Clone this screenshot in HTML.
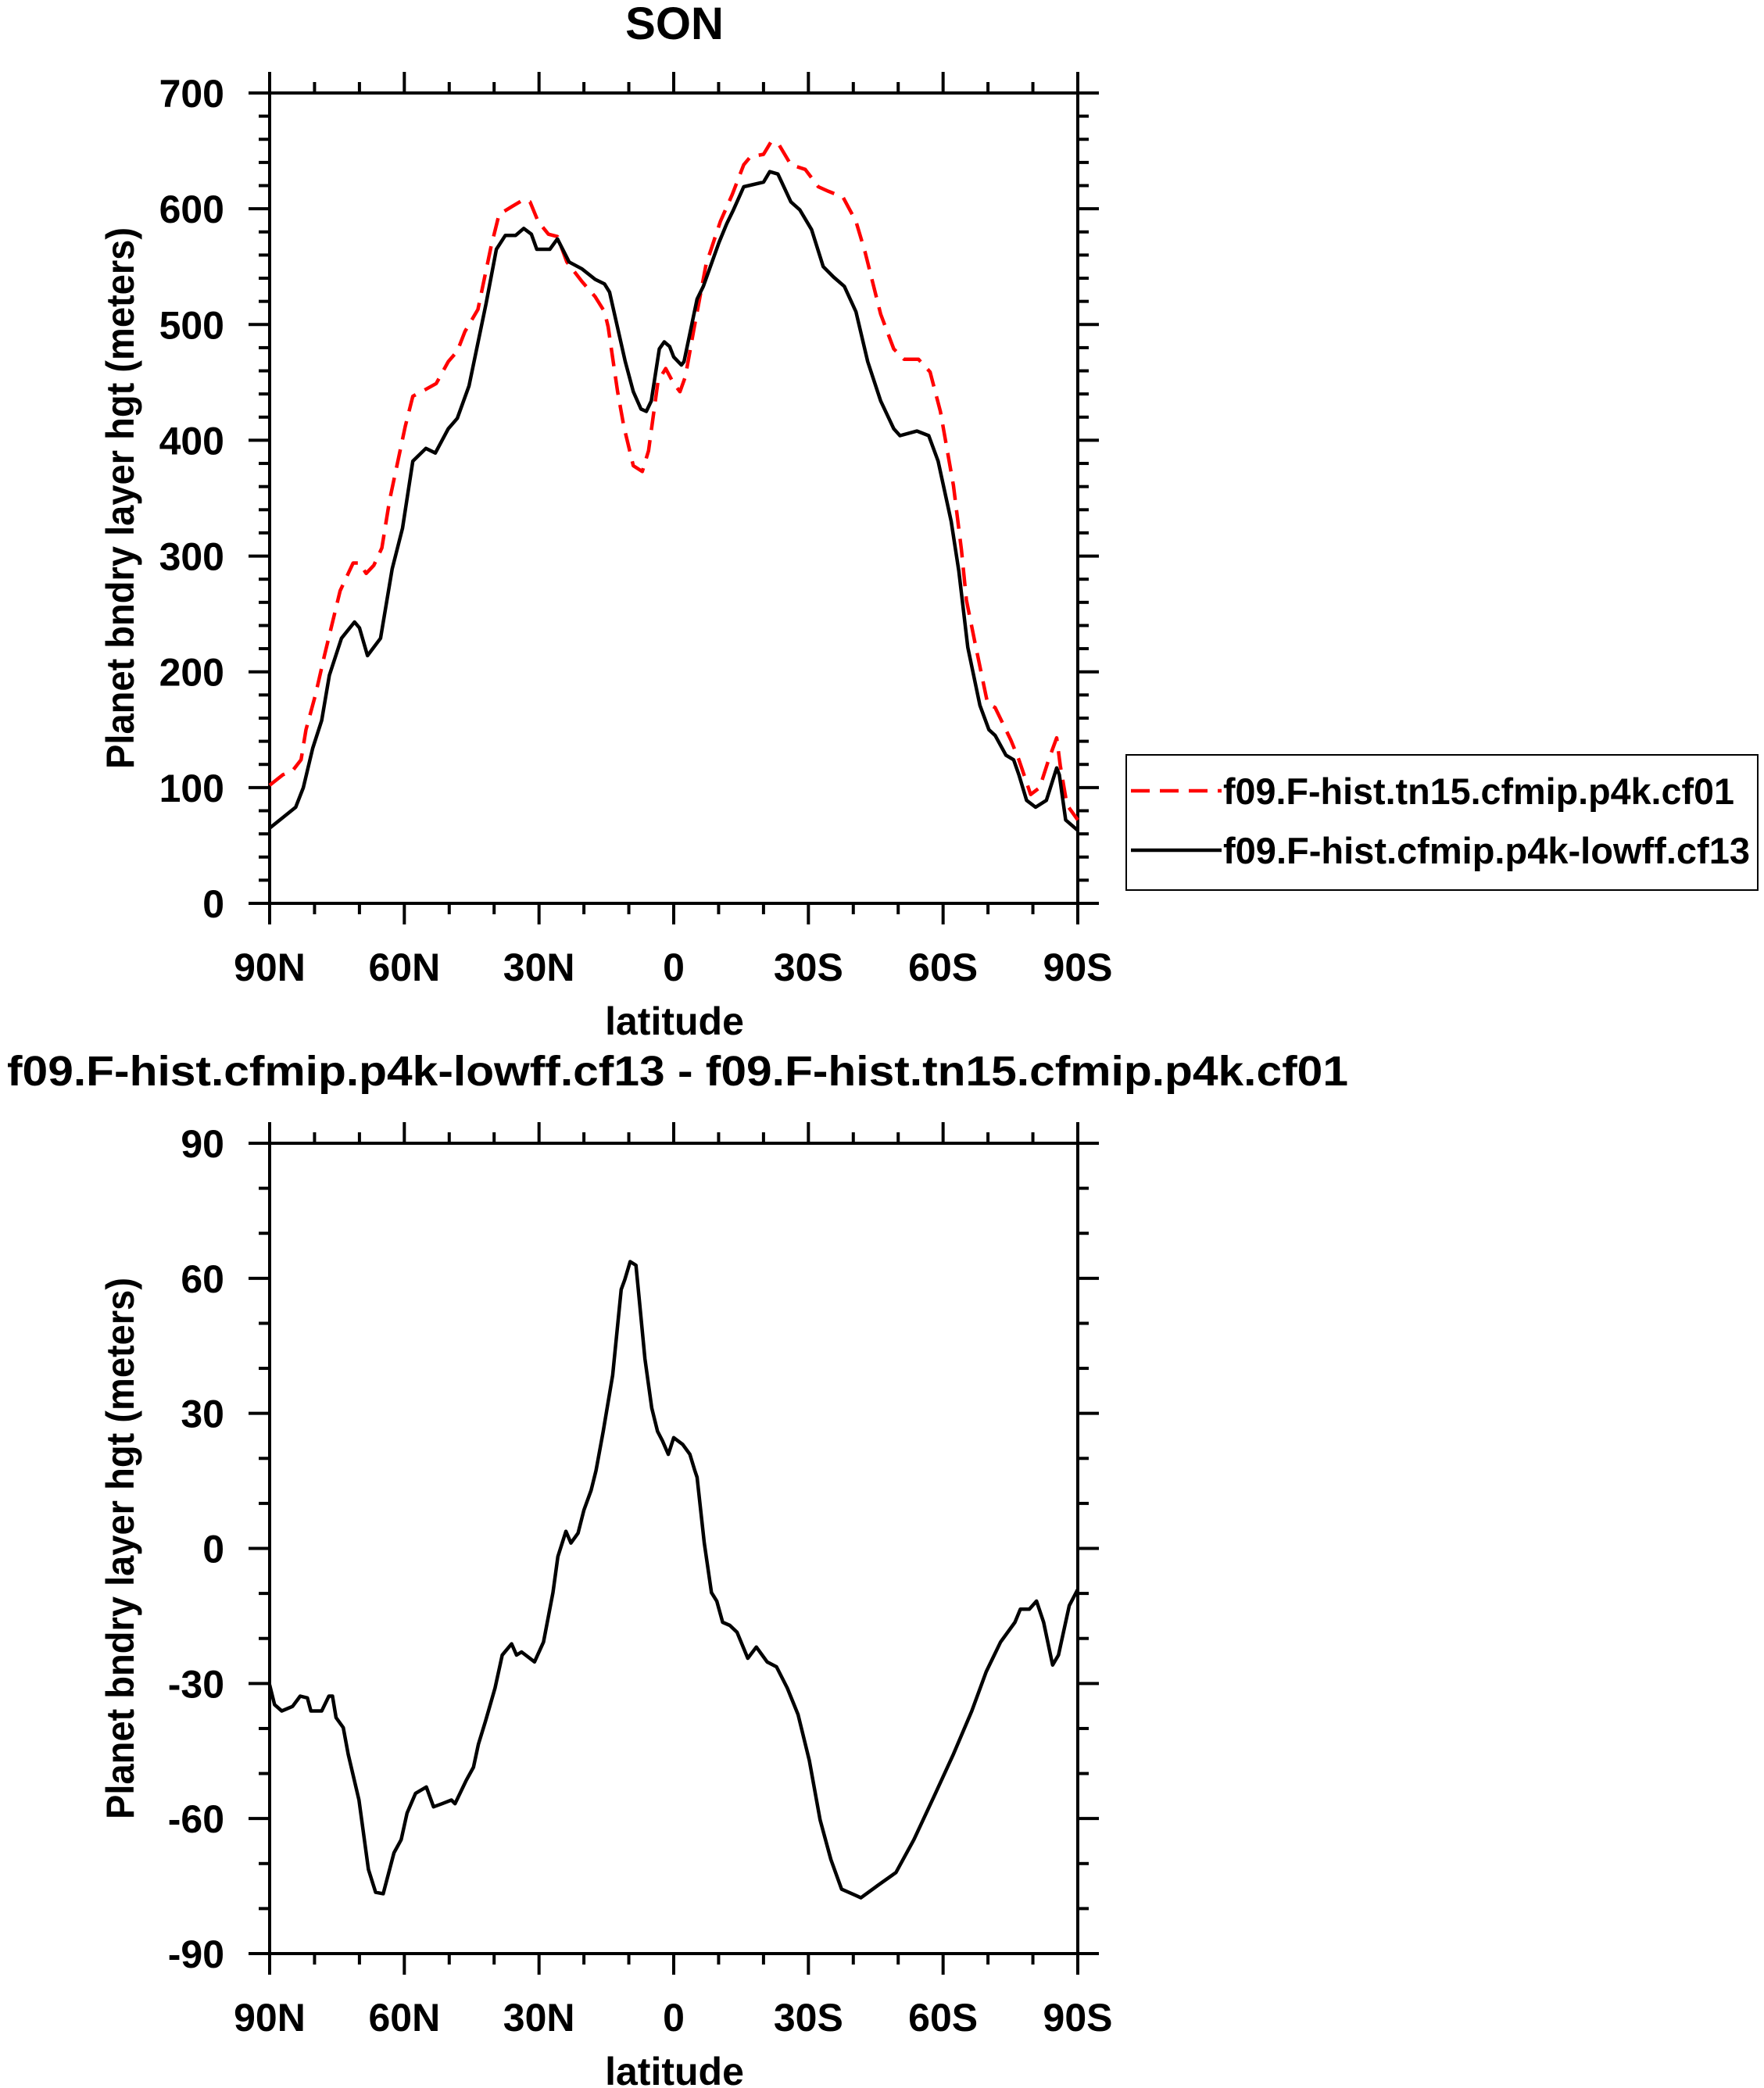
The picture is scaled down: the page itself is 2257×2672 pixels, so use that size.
<!DOCTYPE html>
<html><head><meta charset="utf-8">
<style>
html,body{margin:0;padding:0;background:#fff;}
svg{display:block;}
text{font-family:"Liberation Sans",Arial,sans-serif;font-weight:bold;fill:#000;}
</style></head>
<body>
<svg id="chart" xmlns="http://www.w3.org/2000/svg" width="2257" height="2672" viewBox="0 0 2257 2672">
<rect width="2257" height="2672" fill="#fff"/>
<text x="863" y="50" font-size="58" text-anchor="middle">SON</text>
<text x="867" y="1389" font-size="54" text-anchor="middle" textLength="1716" lengthAdjust="spacingAndGlyphs">f09.F-hist.cfmip.p4k-lowff.cf13 - f09.F-hist.tn15.cfmip.p4k.cf01</text>
<g id="top"></g>
<g id="bot"></g>
<g>
<rect x="1441" y="966" width="808" height="173" fill="none" stroke="#000" stroke-width="2"/>
<line x1="1447" y1="1012" x2="1563" y2="1012" stroke="#f00" stroke-width="4.5" stroke-dasharray="24,13"/>
<text x="1565" y="1029" font-size="47" textLength="654" lengthAdjust="spacingAndGlyphs">f09.F-hist.tn15.cfmip.p4k.cf01</text>
<line x1="1447" y1="1088" x2="1563" y2="1088" stroke="#000" stroke-width="4.5"/>
<text x="1565" y="1105" font-size="47" textLength="674" lengthAdjust="spacingAndGlyphs">f09.F-hist.cfmip.p4k-lowff.cf13</text>
</g>
</svg>
<script>
// degrees from 90N (0) to 90S (180)
const redDeg = [0,2.9,5.2,7,8.1,10.2,12.2,15.7,18.6,20,21.5,23.2,25,26.7,30.2,31.9,34.8,37.1,39.8,41.8,43.5,46.4,49.3,51.1,54,56.6,58,59.8,62.1,64.1,66.2,69.6,72.5,74.6,75.4,77.5,78.9,81,83,84.4,86.5,88.2,90,91.4,92.6,94.6,97.2,100.4,103,105.6,107.1,110,111.7,113.5,116.1,119.3,122.2,124.5,127.7,130.6,132.6,136.1,139,141.3,144.5,147.1,149.4,152.3,154.1,155.2,157,159.9,161.6,165.1,166.9,169.5,171.5,173.5,175.3,176.1,177.6,180];
const redVal = [102,111,115,124,150,180,214,270,294,294,285,292,307,348,412,438,444,449,468,477,494,513,567,595,602,608,606,589,578,576,554,537,524,511,498,442,412,378,373,391,451,462,449,442,455,498,552,589,612,638,645,647,658,655,638,634,619,615,610,589,563,509,479,470,470,459,425,361,305,262,227,173,169,141,124,94,100,124,143,119,85,72];
const blackDeg = [0,2.9,5.8,7.5,9.6,11.6,13.3,16,18.9,20,21.8,24.7,27.3,29.6,31.9,34.8,36.9,39.8,41.8,44.4,48.2,50.5,52.5,54.8,56.6,58.3,59.5,62.4,64.1,66.7,69.6,72.5,74.6,75.7,79.2,81,82.7,83.9,85,86.8,87.9,89.1,90,91.7,92.3,95.2,96.6,100.1,101.8,103.3,105.6,110,111.4,113.2,116.1,118.1,120.7,123.3,125.6,128,130.6,133.2,136.1,139,140.4,144.2,146.8,148.9,151.8,153.5,155.5,158.2,160.2,161.6,164,165.7,166.9,168.6,170.6,173,175.3,175.9,177.3,180];
const blackVal = [65,74,83,100,134,158,197,229,243,238,214,229,289,324,382,393,389,410,419,447,518,565,577,577,583,578,565,565,574,554,548,539,535,528,468,442,427,425,434,479,485,481,472,465,468,522,533,571,587,599,619,623,632,630,606,599,582,550,541,533,511,468,434,410,404,408,404,382,330,287,221,171,150,145,128,124,111,89,83,89,117,111,72,63];
const diffDeg = [0,1.1,2.7,5.1,6.8,8.4,9.2,11.6,13.2,14,14.8,16.4,17.5,19.9,22,23.6,25.3,27.7,29.3,30.6,32.5,34.9,36.5,38.4,40.5,41.3,43.8,45.4,46.5,48.1,50.2,51.8,53.9,55,56.1,59,61,63.1,64.2,66,67.1,68.7,70,71.6,72.7,74.3,76.4,78.3,79.1,80.3,81.6,82.4,83.6,85.1,86.4,87.5,88.8,90,92,93.6,94.7,95.2,96.8,98.4,99.6,100.9,102.5,104.1,106.5,108.4,110.8,112.9,115.3,117.7,120.2,122.6,125,127.4,130.6,131.7,135.4,139.5,143.5,148.3,152.3,156.4,159.6,162.8,166,167.2,169.2,170.8,172.4,174.4,175.7,178.1,180];
const diffVal = [-30.3,-34.7,-36.1,-35.1,-32.8,-33.2,-36.1,-36.1,-32.8,-32.8,-37.6,-39.8,-45.7,-55.9,-71.3,-76.4,-76.7,-67.6,-64.7,-58.8,-54.4,-53,-57.4,-56.7,-55.9,-56.7,-51.5,-48.6,-43.5,-38.3,-31,-23.7,-21.2,-23.7,-23,-25.2,-20.8,-9.8,-1.8,3.8,1.2,3.4,8.5,12.9,17.3,26,38.5,57.5,59.7,63.7,62.9,54.6,42.1,31.2,26,23.9,20.9,24.6,23.1,20.9,17.3,15.8,1.2,-9.8,-11.7,-16.4,-17.1,-18.6,-24.4,-21.9,-25.2,-26.3,-31,-36.9,-47.1,-60.3,-69.1,-75.7,-77.1,-77.6,-74.9,-72,-64.7,-54.4,-45.7,-36.1,-27.4,-20.8,-16.4,-13.5,-13.5,-11.7,-16.4,-25.9,-23.7,-12.7,-9.1];
const xTickLabels = ["90N","60N","30N","0","30S","60S","90S"];
const topYTicks = [0,100,200,300,400,500,600,700];
const botYTicks = [-90,-60,-30,0,30,60,90];

const NS = "http://www.w3.org/2000/svg";
const L = 345, R = 1379;
function mk(parent, tag, attrs){ const e = document.createElementNS(NS, tag); for (const k in attrs) e.setAttribute(k, attrs[k]); parent.appendChild(e); return e; }
function xs(d){ return L + (R - L) * d / 180; }

function axes(g, top, bot, ymin, ymax, yTicks, yMinorStep, prefix){
  const ys = v => bot - (bot - top) * (v - ymin) / (ymax - ymin);
  for (let d = 0; d <= 180; d += 10){
    const major = d % 30 === 0; const len = major ? 27 : 14;
    const x = xs(d);
    const t1 = mk(g, "line", {x1:x, y1:bot, x2:x, y2:bot+len, stroke:"#000", "stroke-width":4});
    
    
    const t2 = mk(g, "line", {x1:x, y1:top, x2:x, y2:top-len, stroke:"#000", "stroke-width":4});
    
    
  }
  for (let v = ymin; v <= ymax + 1e-6; v += yMinorStep){
    const major = yTicks.some(t => Math.abs(t - v) < 1e-6); const len = major ? 27 : 14;
    const y = ys(v);
    const t1 = mk(g, "line", {x1:L, y1:y, x2:L-len, y2:y, stroke:"#000", "stroke-width":4});
    
    
    const t2 = mk(g, "line", {x1:R, y1:y, x2:R+len, y2:y, stroke:"#000", "stroke-width":4});
    
    
  }
  const frame = mk(g, "rect", {x:L, y:top, width:R-L, height:bot-top, fill:"none", stroke:"#000", "stroke-width":4});
  
  
  xTickLabels.forEach((lab, i) => {
    const t = mk(g, "text", {x:xs(i*30), y:bot+99, "font-size":50, "text-anchor":"middle"});
    t.textContent = lab;
    
    
  });
  yTicks.forEach(v => {
    const t = mk(g, "text", {x:287, y:ys(v)+18, "font-size":50, "text-anchor":"end"});
    t.textContent = String(v);
    
    
  });
  const xt = mk(g, "text", {x:863, y:bot+168, "font-size":50, "text-anchor":"middle"});
  xt.textContent = "latitude";
  
  
  const cy = (top + bot) / 2;
  const yt = mk(g, "text", {x:0, y:0, "font-size":50, "text-anchor":"middle", transform:`translate(171,${cy}) rotate(-90)`, textLength:693, lengthAdjust:"spacingAndGlyphs"});
  yt.textContent = "Planet bndry layer hgt (meters)";
  
  
  return ys;
}

function line(g, degs, vals, ys, color, dash, name){
  const pts = degs.map((d, i) => xs(d).toFixed(1) + "," + ys(vals[i]).toFixed(1)).join(" ");
  const p = mk(g, "polyline", {points:pts, fill:"none", stroke:color, "stroke-width":4.5, "stroke-linejoin":"round"});
  if (dash) p.setAttribute("stroke-dasharray", dash);
  
  
}

const gTop = document.getElementById("top");
const ysTop = axes(gTop, 119, 1156, 0, 700, topYTicks, 20, "top");
line(gTop, redDeg, redVal, ysTop, "#f00", "24,13", "series-cf01");
line(gTop, blackDeg, blackVal, ysTop, "#000", null, "series-cf13");

const gBot = document.getElementById("bot");
const ysBot = axes(gBot, 1463, 2500, -90, 90, botYTicks, 10, "bottom");
line(gBot, diffDeg, diffVal, ysBot, "#000", null, "series-difference");
</script>
</body></html>
